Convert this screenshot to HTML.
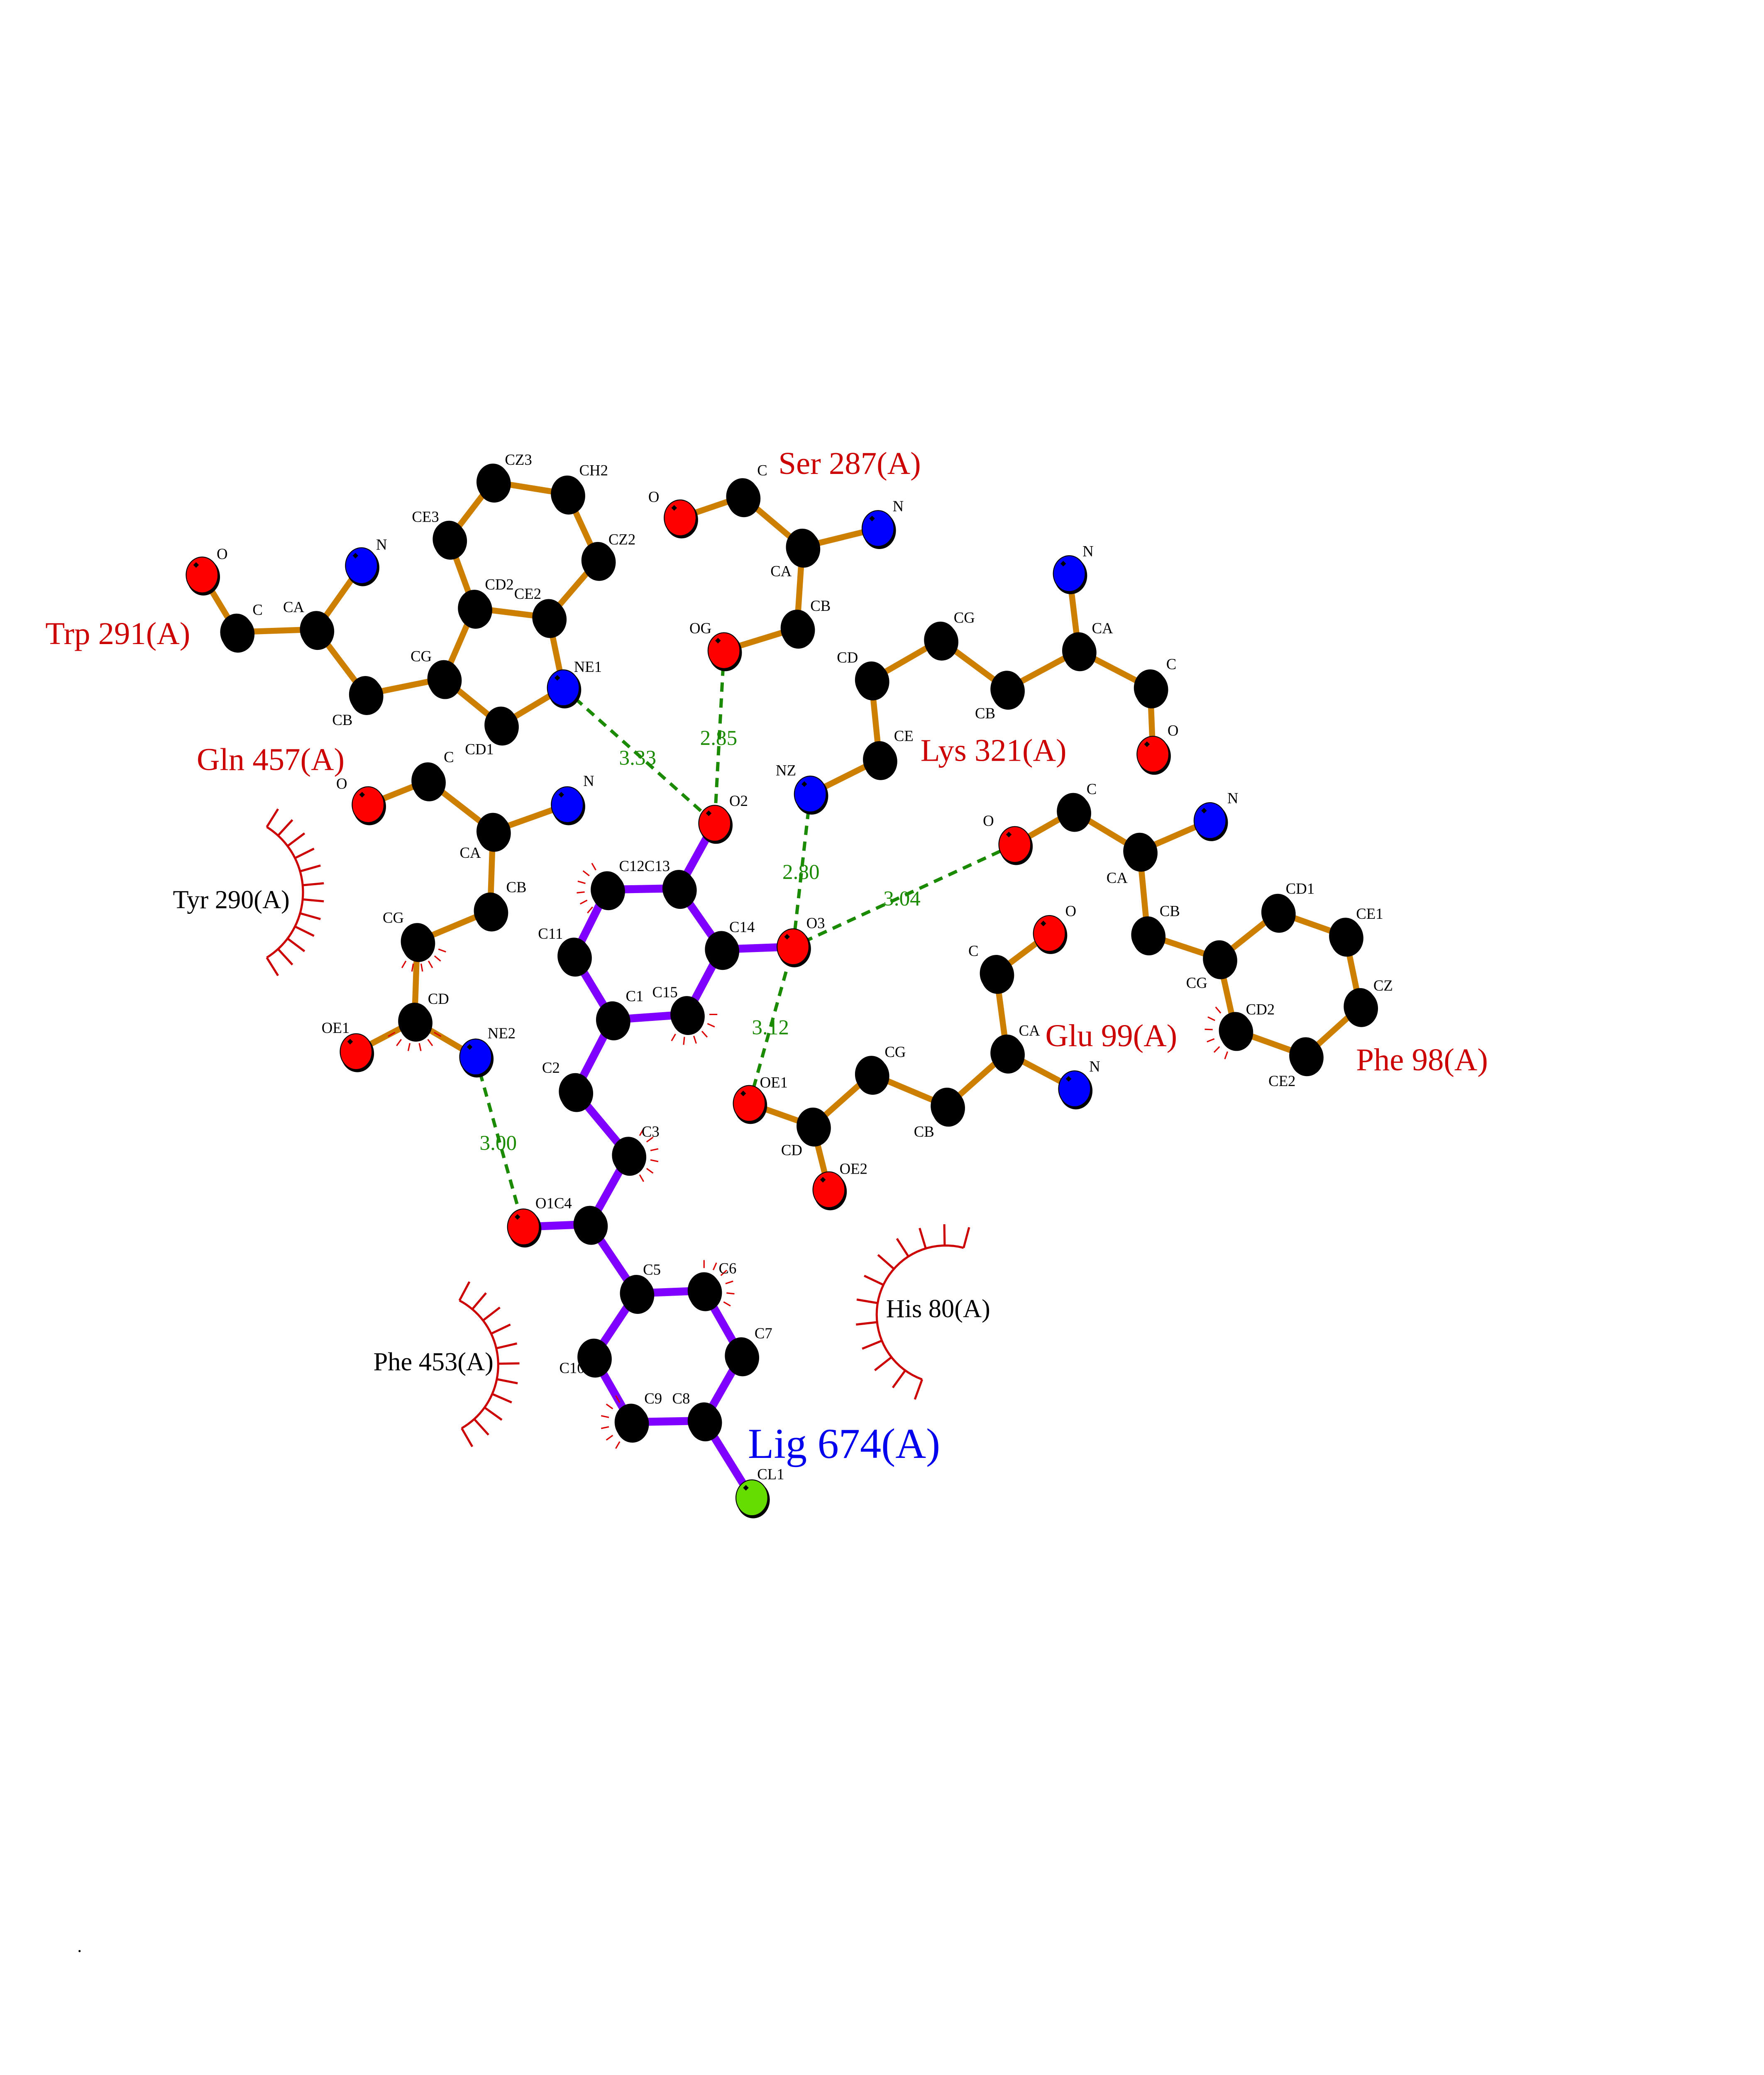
<!DOCTYPE html>
<html><head><meta charset="utf-8"><style>
html,body{margin:0;padding:0;background:#fff;width:4250px;height:5500px;overflow:hidden;position:relative}
svg{display:block;position:absolute;left:0;top:0}
text{font-family:"Liberation Serif",serif}
.a{font-size:11.5px;fill:#000}
.r{font-size:24px;fill:#cc0000}
.h{font-size:19.5px;fill:#000}
.d{font-size:16px;fill:#1a8a00}
</style></head><body>
<svg id="s" width="4250" height="5500" viewBox="0 0 1328 1719" xmlns="http://www.w3.org/2000/svg">
<g id="hb"></g><g id="bonds"></g><g id="spk"></g><g id="atoms"></g>
<g>
<text class="r" x="34" y="485">Trp 291(A)</text>
<text class="r" x="586" y="357">Ser 287(A)</text>
<text class="r" x="693" y="573">Lys 321(A)</text>
<text class="r" x="148" y="580">Gln 457(A)</text>
<text class="r" x="787" y="788">Glu 99(A)</text>
<text class="r" x="1021" y="806">Phe 98(A)</text>
<text x="563" y="1098" style="font-size:32px;fill:#0000ee">Lig 674(A)</text>
<text class="h" x="130" y="684">Tyr 290(A)</text>
<text class="h" x="667" y="992">His 80(A)</text>
<text class="h" x="281" y="1032">Phe 453(A)</text>
<text class="d" x="466" y="576">3.33</text>
<text class="d" x="527" y="561">2.85</text>
<text class="d" x="589" y="662">2.80</text>
<text class="d" x="665" y="682">3.04</text>
<text class="d" x="566" y="779">3.12</text>
<text class="d" x="361" y="866">3.00</text>
<text x="58" y="1470" style="font-size:14px">.</text>
<text class="a" x="163" y="421">O</text><text class="a" x="190" y="463">C</text><text class="a" x="213" y="461">CA</text><text class="a" x="283" y="414">N</text><text class="a" x="250" y="546">CB</text><text class="a" x="309" y="498">CG</text><text class="a" x="350" y="568">CD1</text><text class="a" x="432" y="506">NE1</text><text class="a" x="387" y="451">CE2</text><text class="a" x="365" y="444">CD2</text><text class="a" x="310" y="393">CE3</text><text class="a" x="380" y="350">CZ3</text><text class="a" x="436" y="358">CH2</text><text class="a" x="458" y="410">CZ2</text>
<text class="a" x="488" y="378">O</text><text class="a" x="570" y="358">C</text><text class="a" x="580" y="434">CA</text><text class="a" x="672" y="385">N</text><text class="a" x="610" y="460">CB</text><text class="a" x="519" y="477">OG</text>
<text class="a" x="815" y="419">N</text><text class="a" x="822" y="477">CA</text><text class="a" x="878" y="504">C</text><text class="a" x="879" y="554">O</text><text class="a" x="734" y="541">CB</text><text class="a" x="718" y="469">CG</text><text class="a" x="630" y="499">CD</text><text class="a" x="673" y="558">CE</text><text class="a" x="584" y="584">NZ</text>
<text class="a" x="253" y="594">O</text><text class="a" x="334" y="574">C</text><text class="a" x="346" y="646">CA</text><text class="a" x="439" y="592">N</text><text class="a" x="381" y="672">CB</text><text class="a" x="288" y="695">CG</text><text class="a" x="322" y="756">CD</text><text class="a" x="242" y="778">OE1</text><text class="a" x="367" y="782">NE2</text>
<text class="a" x="549" y="607">O2</text><text class="a" x="466" y="656">C12C13</text><text class="a" x="405" y="707">C11</text><text class="a" x="471" y="754">C1</text><text class="a" x="491" y="751">C15</text><text class="a" x="549" y="702">C14</text><text class="a" x="607" y="699">O3</text><text class="a" x="408" y="808">C2</text><text class="a" x="483" y="856">C3</text><text class="a" x="403" y="910">O1C4</text><text class="a" x="484" y="960">C5</text><text class="a" x="541" y="959">C6</text><text class="a" x="568" y="1008">C7</text><text class="a" x="506" y="1057">C8</text><text class="a" x="485" y="1057">C9</text><text class="a" x="421" y="1034">C10</text><text class="a" x="570" y="1114">CL1</text>
<text class="a" x="740" y="622">O</text><text class="a" x="818" y="598">C</text><text class="a" x="924" y="605">N</text><text class="a" x="833" y="665">CA</text><text class="a" x="873" y="690">CB</text><text class="a" x="893" y="744">CG</text><text class="a" x="968" y="673">CD1</text><text class="a" x="1021" y="692">CE1</text><text class="a" x="1034" y="746">CZ</text><text class="a" x="955" y="818">CE2</text><text class="a" x="938" y="764">CD2</text>
<text class="a" x="729" y="720">C</text><text class="a" x="802" y="690">O</text><text class="a" x="767" y="780">CA</text><text class="a" x="820" y="807">N</text><text class="a" x="688" y="856">CB</text><text class="a" x="666" y="796">CG</text><text class="a" x="588" y="870">CD</text><text class="a" x="572" y="819">OE1</text><text class="a" x="632" y="884">OE2</text>
</g>
</svg>
<script>
var NS="http://www.w3.org/2000/svg";
function el(p,t,a){var e=document.createElementNS(NS,t);for(var k in a)e.setAttribute(k,a[k]);document.getElementById(p).appendChild(e);return e;}
var A={
tO:[152,433,'r'],tC:[178,476],tCA:[238,474],tN:[272,426,'b'],tCB:[275,523],tCG:[334,511],tCD1:[377,546],tNE1:[424,518,'b'],tCE2:[413,465],tCD2:[357,458],tCE3:[338,406],tCZ3:[371,363],tCH2:[427,372],tCZ2:[450,422],
sO:[512,390,'r'],sC:[559,374],sCA:[604,412],sN:[661,398,'b'],sCB:[600,473],sOG:[545,490,'r'],
kN:[805,432,'b'],kCA:[812,490],kC:[866,518],kO:[868,568,'r'],kCB:[758,519],kCG:[708,482],kCD:[656,512],kCE:[662,572],kNZ:[610,598,'b'],
gO:[277,606,'r'],gC:[322,588],gCA:[371,626],gN:[427,606,'b'],gCB:[369,686],gCG:[314,709],gCD:[312,769],gOE1:[268,792,'r'],gNE2:[358,796,'b'],
O2:[538,620,'r'],C13:[511,669],C12:[457,670],C11:[432,720],C1:[461,768],C15:[517,764],C14:[543,715],O3:[597,713,'r'],C2:[433,822],C3:[473,870],C4:[444,922],O1:[394,924,'r'],C5:[479,974],C6:[530,972],C7:[558,1021],C8:[530,1070],C9:[475,1071],C10:[447,1022],CL1:[566,1128,'g'],
pO:[764,636,'r'],pC:[808,611],pN:[911,618,'b'],pCA:[858,641],pCB:[864,704],pCG:[918,722],pCD1:[962,687],pCE1:[1013,705],pCZ:[1024,758],pCE2:[983,795],pCD2:[930,776],
eC:[750,733],eO:[790,703,'r'],eCA:[758,793],eN:[809,820,'b'],eCB:[713,833],eCG:[656,809],eCD:[612,848],eOE1:[564,831,'r'],eOE2:[624,896,'r']};
var OB=[['tO','tC'],['tC','tCA'],['tCA','tN'],['tCA','tCB'],['tCB','tCG'],['tCG','tCD1'],['tCD1','tNE1'],['tNE1','tCE2'],['tCE2','tCD2'],['tCD2','tCG'],['tCD2','tCE3'],['tCE3','tCZ3'],['tCZ3','tCH2'],['tCH2','tCZ2'],['tCZ2','tCE2'],
['sO','sC'],['sC','sCA'],['sCA','sN'],['sCA','sCB'],['sCB','sOG'],
['kN','kCA'],['kCA','kC'],['kC','kO'],['kCA','kCB'],['kCB','kCG'],['kCG','kCD'],['kCD','kCE'],['kCE','kNZ'],
['gO','gC'],['gC','gCA'],['gCA','gN'],['gCA','gCB'],['gCB','gCG'],['gCG','gCD'],['gCD','gOE1'],['gCD','gNE2'],
['pO','pC'],['pC','pCA'],['pCA','pN'],['pCA','pCB'],['pCB','pCG'],['pCG','pCD1'],['pCD1','pCE1'],['pCE1','pCZ'],['pCZ','pCE2'],['pCE2','pCD2'],['pCD2','pCG'],
['eC','eO'],['eC','eCA'],['eCA','eN'],['eCA','eCB'],['eCB','eCG'],['eCG','eCD'],['eCD','eOE1'],['eCD','eOE2']];
var LB=[['C13','O2'],['C13','C12'],['C12','C11'],['C11','C1'],['C1','C15'],['C15','C14'],['C14','C13'],['C14','O3'],['C1','C2'],['C2','C3'],['C3','C4'],['C4','O1'],['C4','C5'],['C5','C6'],['C6','C7'],['C7','C8'],['C8','C9'],['C9','C10'],['C10','C5'],['C8','CL1']];
var HB=[['tNE1','O2'],['sOG','O2'],['kNZ','O3'],['pO','O3'],['eOE1','O3'],['gNE2','O1']];
HB.forEach(function(b){var p=A[b[0]],q=A[b[1]];el('hb','line',{x1:p[0],y1:p[1],x2:q[0],y2:q[1],stroke:'#1a8a00','stroke-width':2.5,'stroke-dasharray':'7,5'});});
OB.forEach(function(b){var p=A[b[0]],q=A[b[1]];el('bonds','line',{x1:p[0],y1:p[1],x2:q[0],y2:q[1],stroke:'#cc7f00','stroke-width':4.5});});
LB.forEach(function(b){var p=A[b[0]],q=A[b[1]];el('bonds','line',{x1:p[0],y1:p[1],x2:q[0],y2:q[1],stroke:'#8000ff','stroke-width':6});});
var col={r:'#ff0000',b:'#0000ff',g:'#66dd00'};
for(var k in A){var a=A[k];var c=a[2]?col[a[2]]:'#000';
el('atoms','ellipse',{cx:a[0]+1,cy:a[1]+1.5,rx:12.5,ry:14,fill:'#000'});
el('atoms','ellipse',{cx:a[0],cy:a[1],rx:12,ry:13.5,fill:c,stroke:'#000','stroke-width':0.7});
if(a[2])el('atoms','rect',{x:a[0]-6,y:a[1]-9,width:3,height:3,fill:'#000',transform:'rotate(45 '+(a[0]-4.5)+' '+(a[1]-7.5)+')'});}
function arc(cx,cy,r,a0,a1,n,len,w){var g='spk';var d='';for(var i=0;i<=40;i++){var t=(a0+(a1-a0)*i/40)*Math.PI/180;d+=(i?'L':'M')+(cx+r*Math.cos(t))+' '+(cy+r*Math.sin(t));}
el(g,'path',{d:d,fill:'none',stroke:'#cc0000','stroke-width':w});
for(var i=0;i<n;i++){var t=(a0+(a1-a0)*i/(n-1))*Math.PI/180;el(g,'line',{x1:cx+r*Math.cos(t),y1:cy+r*Math.sin(t),x2:cx+(r+len)*Math.cos(t),y2:cy+(r+len)*Math.sin(t),stroke:'#cc0000','stroke-width':w});}}
function small(cx,cy,a0,a1){for(var i=0;i<6;i++){var t=(a0+(a1-a0)*i/5)*Math.PI/180;el('spk','line',{x1:cx+17*Math.cos(t),y1:cy+17*Math.sin(t),x2:cx+23*Math.cos(t),y2:cy+23*Math.sin(t),stroke:'#dd0000','stroke-width':1});}}
arc(170,672,58,-58,58,12,16,1.6);
arc(712,990,52,110,285,12,16,1.6);
arc(320,1028,55,-62,60,11,16,1.6);
small(457,670,130,240);small(314,709,20,120);small(312,769,30,150);small(517,764,0,120);small(473,870,-60,60);small(530,972,-90,30);small(475,1071,120,240);small(930,776,110,230);
</script>
</body></html>
